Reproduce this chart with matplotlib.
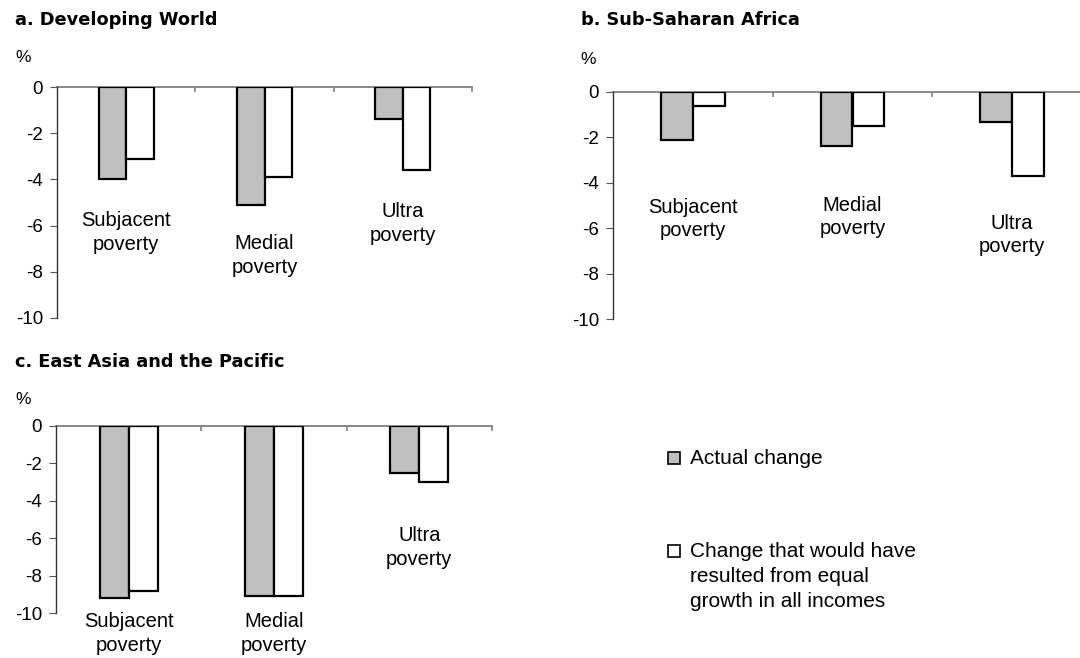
import matplotlib
matplotlib.use("Agg")
import matplotlib.pyplot as plt
from matplotlib.patches import Rectangle
import numpy as np

# ---- data ----
categories = ["Subjacent\npoverty", "Medial\npoverty", "Ultra\npoverty"]
panel_titles = ["a. Developing World", "b. Sub-Saharan Africa", "c. East Asia and the Pacific"]
series_names = ["Actual change",
                "Change that would have\nresulted from equal\ngrowth in all incomes"]

actual_a = [-4.0, -5.1, -1.4]
equal_a = [-3.1, -3.9, -3.6]
actual_b = [-2.1, -2.4, -1.3]
equal_b = [-0.6, -1.5, -3.7]
actual_c = [-9.2, -9.1, -2.5]
equal_c = [-8.8, -9.1, -3.0]

yticks = [0, -2, -4, -6, -8, -10]

# label vertical positions (data units) per panel
label_y_a = [-6.3, -7.3, -5.9]
label_y_b = [-5.6, -5.5, -6.3]
label_y_c = [-11.1, -11.1, -6.5]

W, H = 1080, 658
fig = plt.figure(figsize=(W / 100, H / 100), dpi=100)
fig.patch.set_facecolor("white")

SANS = ["Liberation Sans", "DejaVu Sans"]
GRAY_FILL = "#C0C0C0"
TOP_SPINE = "#808080"
LEFT_SPINE = "#333333"
TICK_COL = "#555555"


def px_axes(l, r, t, b):
    return [l / W, 1 - b / H, (r - l) / W, (b - t) / H]


def panel(rect, actual, equal, label_y, title, title_xy, pct_xy):
    ax = fig.add_axes(px_axes(*rect))
    x = np.arange(len(categories))
    wbar = 0.2
    ax.bar(x - wbar, actual, width=wbar, align="edge", color=GRAY_FILL,
           edgecolor="black", linewidth=1.6, zorder=3)
    ax.bar(x, equal, width=wbar, align="edge", color="white",
           edgecolor="black", linewidth=1.6, zorder=3)
    ax.set_xlim(-0.5, 2.5)
    ax.set_ylim(-10, 0)
    for s in ["right", "bottom"]:
        ax.spines[s].set_visible(False)
    ax.spines["top"].set_color(TOP_SPINE)
    ax.spines["top"].set_linewidth(1.3)
    ax.spines["left"].set_color(LEFT_SPINE)
    ax.spines["left"].set_linewidth(1.0)
    ax.spines["top"].set_zorder(2)
    ax.set_yticks(yticks)
    ax.set_yticklabels([str(v) for v in yticks], fontsize=13.5, family=SANS)
    ax.tick_params(axis="y", direction="out", length=5, color=TICK_COL, pad=5)
    ax.xaxis.set_ticks_position("top")
    ax.set_xticks([0.5, 1.5, 2.5])
    ax.set_xticklabels([])
    ax.tick_params(axis="x", direction="in", length=3.5, color=TOP_SPINE,
                   width=1.2, labeltop=False, labelbottom=False)
    for xi, (lab, ly) in enumerate(zip(categories, label_y)):
        ax.text(xi, ly, lab, ha="center", va="center", fontsize=14.5,
                family=SANS, linespacing=1.3, clip_on=False)
    fig.text(title_xy[0] / W, 1 - title_xy[1] / H, title, fontsize=12.8,
             fontweight="bold", family=["DejaVu Sans"], ha="left", va="center")
    fig.text(pct_xy[0] / W, 1 - pct_xy[1] / H, "%", fontsize=12.5,
             family=SANS, ha="left", va="center")
    return ax


panel((57, 472, 87, 318), actual_a, equal_a, label_y_a, panel_titles[0], (15, 20), (15, 58))
panel((613, 1092, 92, 319), actual_b, equal_b, label_y_b, panel_titles[1], (581, 20), (580, 59))
panel((56, 492, 426, 613), actual_c, equal_c, label_y_c, panel_titles[2], (15, 362), (15, 400))

# ---- legend (manual) ----
legend_items = [(GRAY_FILL, series_names[0], 452, 458),
                ("white", series_names[1], 545, 551)]
for fc, txt, sq_top, txt_y in legend_items:
    fig.add_artist(Rectangle((668 / W, 1 - (sq_top + 12) / H), 12 / W, 12 / H,
                             transform=fig.transFigure, facecolor=fc,
                             edgecolor="black", linewidth=1.2))
    fig.text(690 / W, 1 - (txt_y - 9) / H, txt, fontsize=15, family=SANS,
             ha="left", va="top", linespacing=1.4)

fig.savefig("out.png", dpi=100, facecolor="white")
